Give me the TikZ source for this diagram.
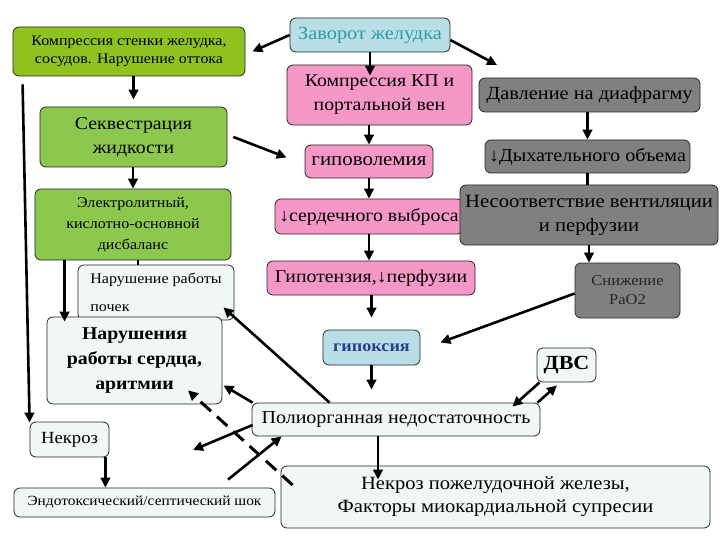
\documentclass[tikz,border=0pt]{standalone}
\usepackage{fontspec}
\setmainfont[FakeStretch=1.1]{Liberation Serif}
\usetikzlibrary{arrows.meta}
\definecolor{limeg}{HTML}{8EC21F}
\definecolor{greenb}{HTML}{8DC84E}
\definecolor{pinkb}{HTML}{F598C8}
\definecolor{grayb}{HTML}{808080}
\definecolor{blueb}{HTML}{B9DFE6}
\definecolor{lightb}{HTML}{F1F6F6}
\definecolor{tealt}{HTML}{2E9BA5}
\definecolor{bluet}{HTML}{2C3E8C}
\begin{document}
\begin{tikzpicture}[x=1pt,y=-1pt,
  box/.style={draw=black!85, line width=0.8pt, rounded corners=6pt, align=center, inner sep=0pt},
  arr/.style={line width=2.6pt, -{Triangle[length=10pt,width=9.5pt]}},
  plain/.style={line width=2.6pt},
  dashedarr/.style={line width=3pt, dash pattern=on 14pt off 8pt, -{Triangle[length=10pt,width=9.5pt]}}]
\fill[white] (0,0) rectangle (720,540);
\useasboundingbox (0,0) rectangle (720,540);

% nodes
\node[box, fill=limeg, minimum width=232pt, minimum height=49pt, font=\fontsize{14.5}{18}\selectfont] (comp) at (129,51.5) {Компрессия стенки желудка,\\сосудов. Нарушение оттока};
\node[box, fill=blueb, minimum width=160pt, minimum height=34pt, font=\fontsize{18.5}{20}\selectfont, text=tealt] (zav) at (370,35) {Заворот желудка};
\node[box, fill=pinkb, minimum width=185pt, minimum height=60pt, font=\fontsize{18}{24}\selectfont] (kp) at (379.5,95) {Компрессия КП и\\портальной вен};
\node[box, fill=grayb, minimum width=221pt, minimum height=34pt, font=\fontsize{18.5}{20}\selectfont] (dav) at (589.5,95) {Давление на диафрагму};
\node[box, fill=greenb, minimum width=187pt, minimum height=60pt, font=\fontsize{18}{24}\selectfont] (sek) at (133.5,137) {Секвестрация\\жидкости};
\node[box, fill=pinkb, minimum width=128pt, minimum height=33pt, font=\fontsize{19}{20}\selectfont] (gipov) at (369,161.5) {гиповолемия};
\node[box, fill=grayb, minimum width=205pt, minimum height=33pt, font=\fontsize{18.3}{20}\selectfont] (dyh) at (587.5,156.5) {↓Дыхательного объема};
\node[box, fill=greenb, minimum width=196pt, minimum height=71pt, font=\fontsize{14.6}{21}\selectfont] (elec) at (133,224.5) {Электролитный,\\кислотно-основной\\дисбаланс};
\node[box, fill=pinkb, minimum width=188pt, minimum height=35pt, font=\fontsize{18}{20}\selectfont] (serd) at (369,216.5) {↓сердечного выброса};
\node[box, fill=grayb, minimum width=258pt, minimum height=60pt, font=\fontsize{18.8}{24}\selectfont] (nesoot) at (589,215) {Несоответствие вентиляции\\и перфузии};
\node[box, fill=lightb, minimum width=156pt, minimum height=55pt, font=\fontsize{14.6}{28}\selectfont, align=left] (pochki) at (156,292.5) {Нарушение работы\\почек};
\node[box, fill=pinkb, minimum width=208pt, minimum height=34pt, font=\fontsize{18}{20}\selectfont] (gipot) at (371,278) {Гипотензия,↓перфузии};
\node[box, fill=grayb, minimum width=105pt, minimum height=55pt, font=\fontsize{15}{19}\selectfont, text=black!85] (snizh) at (627.5,290.5) {Снижение\\PaO2};
\node[box, fill=lightb, minimum width=175pt, minimum height=87pt, font=\fontsize{18}{25}\selectfont\bfseries] (heart) at (134.5,360.5) {Нарушения\\работы сердца,\\аритмии};
\node[box, fill=blueb, minimum width=97pt, minimum height=35pt, font=\fontsize{16.5}{18}\selectfont\bfseries, text=bluet] (gipox) at (371.5,347.5) {гипоксия};
\node[box, fill=lightb, minimum width=59pt, minimum height=34pt, font=\fontsize{20}{22}\selectfont\bfseries] (dvs) at (566.5,365) {ДВС};
\node[box, fill=lightb, minimum width=288pt, minimum height=33pt, font=\fontsize{18.2}{20}\selectfont] (poly) at (396,419.5) {Полиорганная недостаточность};
\node[box, fill=lightb, minimum width=79pt, minimum height=35pt, font=\fontsize{17}{19}\selectfont] (nekroz) at (69.5,439.5) {Некроз};
\node[box, fill=lightb, minimum width=261pt, minimum height=29pt, font=\fontsize{14}{16}\selectfont] (shock) at (144.5,502.5) {Эндотоксический/септический шок};
\node[box, fill=lightb, minimum width=429pt, minimum height=62pt, font=\fontsize{18.7}{23}\selectfont] (panc) at (495.5,497) {Некроз пожелудочной железы,\\Факторы миокардиальной супресии};

% free ends
\coordinate (c3) at (497,65);
\coordinate (cfree) at (193,450);

% connectors
\draw[arr] (zav.west) -- ([xshift=7pt]comp.east);
\draw[arr] (zav.south) -- ([yshift=-11pt]zav.south |- kp.north);
\draw[arr] ([yshift=-5pt]zav.east) -- (c3);
\draw[arr] (comp.south -| sek) -- ([yshift=7pt]sek.north);
\draw[arr] ([xshift=6pt]sek.east) -- ([xshift=-18pt,yshift=4pt]gipov.west);
\draw[arr] (sek.south -| elec) -- (elec.north);
\draw[arr] (gipov.north |- kp.south) -- (gipov.north);
\draw[arr] (gipov.south) -- (gipov.south |- serd.north);
\draw[arr] (serd.south) -- (serd.south |- gipot.north);
\draw[arr] (dyh.north |- dav.south) -- (dyh.north);
\draw[plain] (dyh.south) -- (dyh.south |- nesoot.north);
\draw[arr] (nesoot.south) -- (nesoot.south |- snizh.north);
\draw[arr] (gipox.north |- gipot.south) -- ([yshift=12pt]gipox.north);
\draw[arr] ([yshift=-3pt]snizh.west) -- ([xshift=20pt,yshift=5pt]gipox.east);
\draw[arr] (gipox.south) -- ([yshift=13pt]gipox.south |- poly.north);
\draw[arr] ([xshift=-18pt]poly.south) -- ([xshift=-18pt,yshift=-14pt]poly.south |- panc.north);
\draw[arr] ([xshift=3pt]dvs.south west) -- ([xshift=-28pt,yshift=-4pt]poly.north east);
\draw[arr] ([xshift=-3pt]poly.north east) -- ([xshift=-9.5pt,yshift=-3pt]dvs.south);
\draw[arr] ([xshift=30pt]elec.south west) -- ([xshift=30pt,yshift=-5pt]elec.south west |- heart.north);
\draw[plain] ([xshift=5pt]elec.south) -- ([xshift=5pt]elec.south |- pochki.north);
\draw[arr] ([xshift=10pt,yshift=-8pt]comp.south west) -- ([yshift=-1pt]nekroz.north west);
\draw[arr] ([xshift=-4pt]nekroz.south east) -- ([xshift=-4pt]nekroz.south east |- shock.north);
\draw[arr] ([xshift=78pt]poly.north west) -- ([xshift=-11pt,yshift=13pt]pochki.south east);
\draw[arr] ([xshift=1pt]poly.north west) -- ([xshift=1pt,yshift=19pt]heart.south east);
\draw[arr] ([xshift=1pt,yshift=-5.5pt]poly.west) -- (cfree);
\draw[arr] ([xshift=83.5pt,yshift=8pt]shock.north) -- ([xshift=30pt]poly.south west);
\draw[dashedarr] ([xshift=12pt,yshift=12pt]panc.west) -- ([xshift=53.5pt,yshift=14pt]heart.south);
\end{tikzpicture}
\end{document}
